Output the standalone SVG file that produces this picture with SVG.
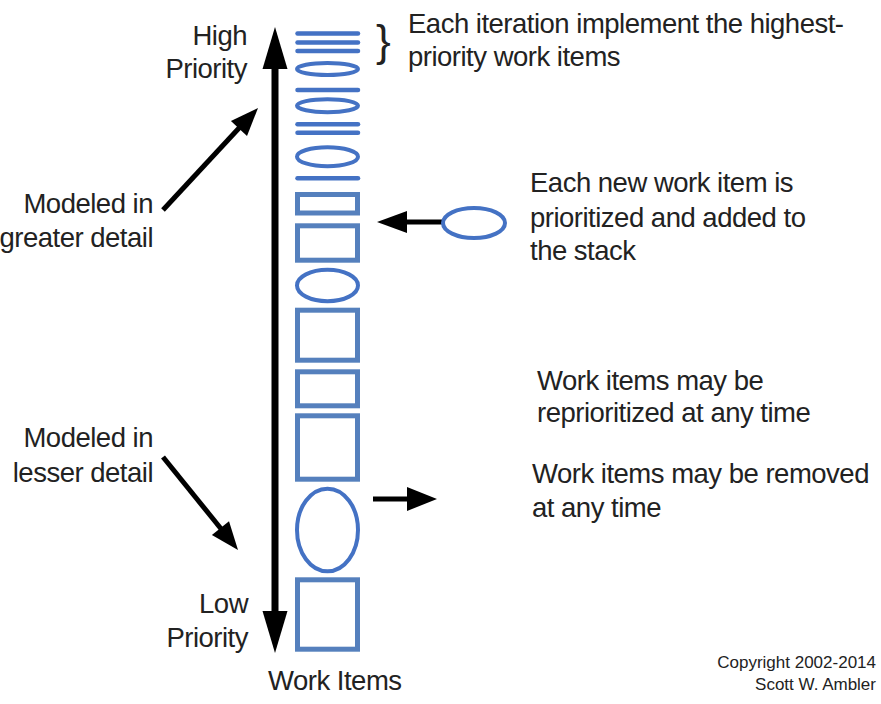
<svg xmlns="http://www.w3.org/2000/svg" width="881" height="704" viewBox="0 0 881 704">
<style>
text{font-family:"Liberation Sans",Arial,sans-serif;fill:#222;}
.t{font-size:27.5px;letter-spacing:-0.5px;}
.r{text-anchor:end;}
.s{font-size:17px;text-anchor:end;}
.bar{stroke:#4472c4;stroke-width:4.5;stroke-linecap:round;fill:none;}
.el{stroke:#4472c4;stroke-width:4;fill:none;}
.bx{stroke:#5580bd;stroke-width:5;fill:none;}
.sh{stroke:#000;fill:none;}
.hd{fill:#000;}
</style>
<rect width="881" height="704" fill="#fff"/>
<g id="connectors">
<line class="sh" x1="275" y1="62" x2="275" y2="618" stroke-width="7"/>
<polygon class="hd" points="275,27 262.5,69 287.5,69"/>
<polygon class="hd" points="275,653 262.5,611 287.5,611"/>
<line class="sh" x1="163" y1="210" x2="240" y2="127" stroke-width="5"/>
<polygon class="hd" points="258,108 247,136 230.9,121"/>
<line class="sh" x1="163" y1="457" x2="222" y2="530" stroke-width="5"/>
<polygon class="hd" points="238,550 211.9,535.1 229,521.3"/>
<line class="sh" x1="442" y1="222" x2="404" y2="222" stroke-width="5"/>
<polygon class="hd" points="377,222 407,211 407,233"/>
<line class="sh" x1="373" y1="499" x2="410" y2="499" stroke-width="5"/>
<polygon class="hd" points="437,499 407,487 407,511"/>
</g>
<g id="stack">
<line class="bar" x1="297.5" y1="33.5" x2="358" y2="33.5"/>
<line class="bar" x1="297.5" y1="42.5" x2="358" y2="42.5"/>
<line class="bar" x1="297.5" y1="51" x2="358" y2="51"/>
<ellipse class="el" cx="327.5" cy="69" rx="30.5" ry="6"/>
<line class="bar" x1="297.5" y1="90" x2="358" y2="90"/>
<ellipse class="el" cx="327.5" cy="105.7" rx="30.5" ry="6.5"/>
<line class="bar" x1="297.5" y1="124.3" x2="358" y2="124.3"/>
<line class="bar" x1="297.5" y1="132.7" x2="358" y2="132.7"/>
<ellipse class="el" cx="327.5" cy="156.7" rx="30.5" ry="9.5"/>
<line class="bar" x1="297.5" y1="178.3" x2="358" y2="178.3" stroke-width="6"/>
<rect class="bx" x="297.5" y="194.5" width="60" height="18.5"/>
<rect class="bx" x="297.5" y="225.8" width="60" height="34.4"/>
<ellipse class="el" cx="327.5" cy="285.5" rx="30.5" ry="15.7"/>
<rect class="bx" x="297.5" y="310.2" width="60" height="50"/>
<rect class="bx" x="297.5" y="371.8" width="60" height="34"/>
<rect class="bx" x="297.5" y="415.8" width="60" height="63.4"/>
<ellipse class="el" cx="327.5" cy="530" rx="30.5" ry="41.3"/>
<rect class="bx" x="297.5" y="579.8" width="60" height="69.4"/>
</g>
<g id="new-item"><ellipse class="el" cx="474" cy="223" rx="31" ry="15"/></g>
<g id="label-high"><text class="t r" x="247" y="45">High</text><text class="t r" x="247" y="78">Priority</text></g>
<g id="label-low"><text class="t r" x="248" y="613">Low</text><text class="t r" x="248" y="647">Priority</text></g>
<g id="label-greater"><text class="t r" x="153" y="213">Modeled in</text><text class="t r" x="153" y="247">greater detail</text></g>
<g id="label-lesser"><text class="t r" x="153" y="447">Modeled in</text><text class="t r" x="153" y="482">lesser detail</text></g>
<g id="label-work-items"><text class="t" x="268" y="690">Work Items</text></g>
<g id="note-iteration"><text x="376" y="56" style="font-size:44px;font-weight:300;">}</text><text class="t" x="408" y="33">Each iteration implement the highest-</text><text class="t" x="408" y="66">priority work items</text></g>
<g id="note-new"><text class="t" x="530" y="192">Each new work item is</text><text class="t" x="530" y="227">prioritized and added to</text><text class="t" x="530" y="260">the stack</text></g>
<g id="note-reprioritize"><text class="t" x="537" y="390">Work items may be</text><text class="t" x="537" y="422">reprioritized at any time</text></g>
<g id="note-remove"><text class="t" x="532" y="483">Work items may be removed</text><text class="t" x="532" y="517">at any time</text></g>
<g id="copyright"><text class="s" x="876" y="668">Copyright 2002-2014</text><text class="s" x="876" y="690">Scott W. Ambler</text></g>
</svg>
